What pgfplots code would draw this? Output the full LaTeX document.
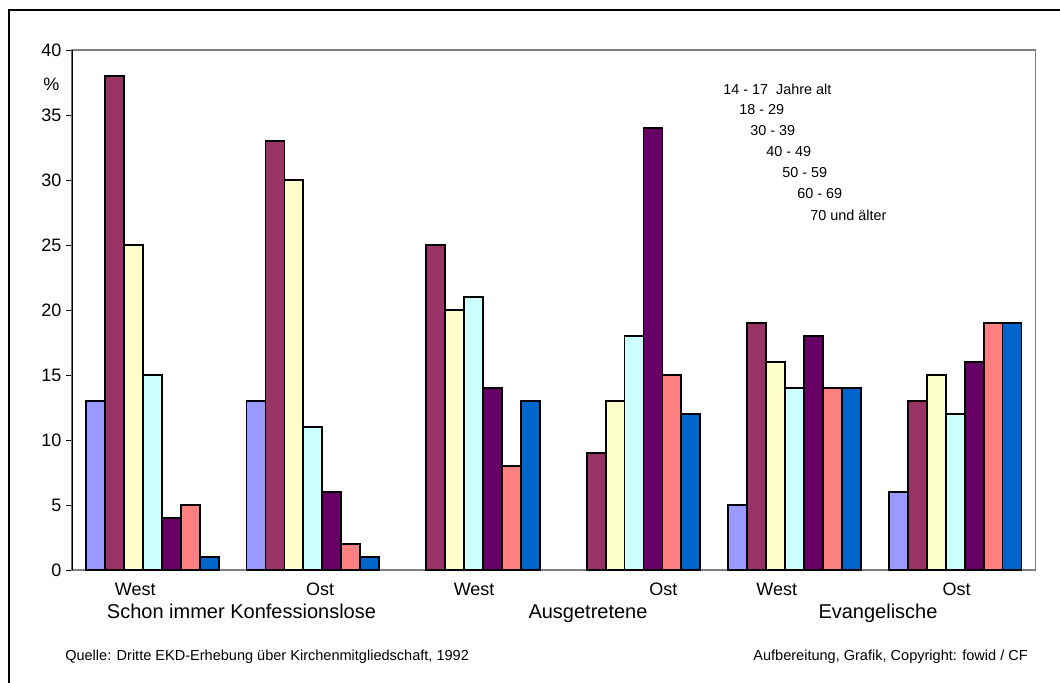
\documentclass[border=0pt]{standalone}
\usepackage{pgfplots}
\pgfplotsset{compat=1.18}
\usepackage{fontspec}
\setmainfont{Liberation Sans}

\definecolor{sA}{HTML}{9999FF}
\definecolor{sB}{HTML}{993366}
\definecolor{sC}{HTML}{FFFFCC}
\definecolor{sD}{HTML}{CCFFFF}
\definecolor{sE}{HTML}{660066}
\definecolor{sF}{HTML}{FF8080}
\definecolor{sG}{HTML}{0066CC}

\begin{document}
\begin{tikzpicture}
\begin{scope}[x=0.75pt,y=0.75pt]
  \useasboundingbox (0,0) rectangle (1060,682);
  \draw[line width=1.5pt] (9,-5) -- (9,672) -- (1065,672);
\end{scope}

\begin{axis}[
  at={(54pt,84pt)}, anchor=south west,
  scale only axis, width=722.6pt, height=390pt,
  ybar=0pt, bar width=0.118,
  xmin=-0.5, xmax=5.5, ymin=0, ymax=40,
  ytick={0,5,...,40},
  ytick pos=left,
  tick align=outside,
  major tick length=4.5pt,
  ytick style={black, line width=0.7pt},
  xtick={-0.106,1.045,2.004,3.183,3.889,5.009},
  xticklabels={West,Ost,West,Ost,West,Ost},
  xtick style={draw=none},
  xticklabel style={anchor=base, yshift=-15pt},
  axis line style={draw=gray, line width=1.3pt},
  /pgf/number format/assume math mode=true,
  tick label style={font=\fontsize{13.5}{15}\selectfont},
  every axis plot/.append style={draw=black, line width=1.4pt},
]
\addplot[fill=sA] coordinates {(0,13) (1,13) (4,5) (5,6)};
\addplot[fill=sB] coordinates {(0,38) (1,33) (2,25) (3,9) (4,19) (5,13)};
\addplot[fill=sC] coordinates {(0,25) (1,30) (2,20) (3,13) (4,16) (5,15)};
\addplot[fill=sD] coordinates {(0,15) (1,11) (2,21) (3,18) (4,14) (5,12)};
\addplot[fill=sE] coordinates {(0,4) (1,6) (2,14) (3,34) (4,18) (5,16)};
\addplot[fill=sF] coordinates {(0,5) (1,2) (2,8) (3,15) (4,14) (5,19)};
\addplot[fill=sG] coordinates {(0,1) (1,1) (2,13) (3,12) (4,14) (5,19)};
\draw[black, line width=0.8pt] (rel axis cs:0,0) -- (rel axis cs:0,1);
\end{axis}

\begin{scope}[x=0.75pt,y=0.75pt]
  \node[font=\fontsize{13.5}{15}\selectfont] at (51.5,597.5) {\%};
  % legend (text only, staggered)
  \begin{scope}[every node/.style={anchor=base west, inner sep=0pt, font=\fontsize{10.8}{13}\selectfont}]
    \node at (723,587) {14 - 17\ \ Jahre alt};
    \node at (739,567) {18 - 29};
    \node at (750,546) {30 - 39};
    \node at (766,525) {40 - 49};
    \node at (782,504) {50 - 59};
    \node at (797,483) {60 - 69};
    \node at (810,461) {70 und älter};
  \end{scope}
  % group names
  \begin{scope}[every node/.style={anchor=base, inner sep=0pt, font=\fontsize{15}{18}\selectfont}]
    \node at (241.5,64) {Schon immer Konfessionslose};
    \node at (588,64) {Ausgetretene};
    \node at (878,64) {Evangelische};
  \end{scope}
  % footer
  \node[anchor=base west, inner sep=0pt, font=\fontsize{10.9}{13}\selectfont] at (65,22) {Quelle: Dritte EKD-Erhebung über Kirchenmitgliedschaft, 1992};
  \node[anchor=base east, inner sep=0pt, font=\fontsize{10.9}{13}\selectfont] at (1028,22) {Aufbereitung, Grafik, Copyright: fowid / CF};
\end{scope}
\end{tikzpicture}
\end{document}
